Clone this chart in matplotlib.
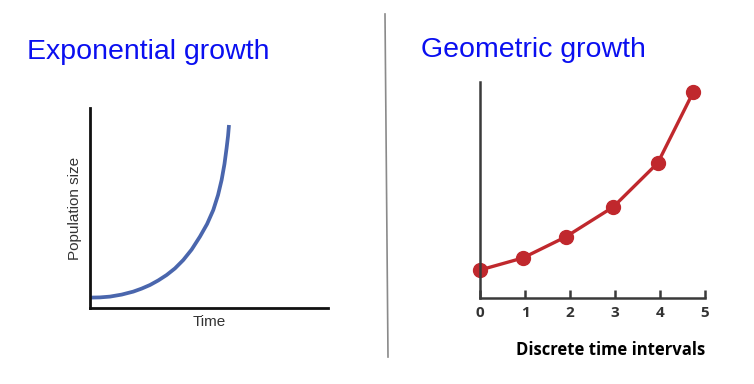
import numpy as np
import matplotlib.pyplot as plt

# exponential curve (arbitrary units 0-10)
exp_time = [0.0, 0.42, 0.84, 1.33, 1.82, 2.17, 2.52, 2.87, 3.22, 3.57, 3.92, 4.27,
            4.62, 4.92, 5.18, 5.38, 5.53, 5.65, 5.74, 5.80, 5.84]
exp_pop = [0.52, 0.53, 0.57, 0.67, 0.82, 0.97, 1.15, 1.38, 1.65, 1.98, 2.40, 2.92,
           3.57, 4.20, 4.90, 5.65, 6.40, 7.20, 8.00, 8.60, 9.15]

# geometric growth points
geo_t = [0, 0.95, 1.9, 2.96, 3.95, 4.74]
geo_n = [28, 40, 61, 91, 135, 206]
geo_ticks = [0, 1, 2, 3, 4, 5]

W, H = 754, 384
fig = plt.figure(figsize=(W / 100, H / 100), dpi=100)

def box(x0, x1, ytop, ybot):
    return [x0 / W, 1 - ybot / H, (x1 - x0) / W, (ybot - ytop) / H]

# left: exponential
ax1 = fig.add_axes(box(90, 328, 108, 308))
ax1.plot(exp_time, exp_pop, color='#4a66ad', lw=2.7, solid_capstyle='butt')
ax1.set_xlim(0, 10)
ax1.set_ylim(0, 10)
for s in ['top', 'right']:
    ax1.spines[s].set_visible(False)
for s in ['left', 'bottom']:
    ax1.spines[s].set_linewidth(2)
    ax1.spines[s].set_color('#111111')
ax1.set_xticks([])
ax1.set_yticks([])
ax1.set_xlabel('Time', fontsize=11, color='#333333', family='Liberation Sans', labelpad=5)
ax1.set_ylabel('Population size', fontsize=11, color='#333333', family='Liberation Sans', labelpad=6)

# right: geometric
ax2 = fig.add_axes(box(480, 705, 82, 298))
ax2.plot(geo_t, geo_n, color='#c0282d', lw=2.4, marker='o', ms=10, clip_on=False)
ax2.set_xlim(0, 5)
ax2.set_ylim(0, 216)
for s in ['top', 'right']:
    ax2.spines[s].set_visible(False)
for s in ['left', 'bottom']:
    ax2.spines[s].set_linewidth(1.8)
    ax2.spines[s].set_color('#3a3a3a')
ax2.set_yticks([])
ax2.set_xticks(geo_ticks)
ax2.set_xticklabels([str(t) for t in geo_ticks], fontsize=11, fontweight='bold',
                    color='#333333', family='Open Sans')
ax2.tick_params(axis='x', direction='in', length=6, width=1.8, color='#3a3a3a', pad=6)
ax2.set_xlabel('Discrete time intervals', fontsize=12, fontweight='bold',
               family='Open Sans', color='black')
ax2.xaxis.set_label_coords(0.58, -0.2)

# titles
fig.text(27 / W, 1 - 52 / H, 'Exponential growth', fontsize=20.5, color='#0a0ff0',
         family='Liberation Sans', va='center', ha='left')
fig.text(421 / W, 1 - 50 / H, 'Geometric growth', fontsize=20.5, color='#0a0ff0',
         family='Liberation Sans', va='center', ha='left')

# separator
fig.add_artist(plt.Line2D([385 / W, 388 / W], [1 - 14 / H, 1 - 357 / H],
                          color='#8a8a8a', lw=1.2))

fig.savefig('out.png', dpi=100)
